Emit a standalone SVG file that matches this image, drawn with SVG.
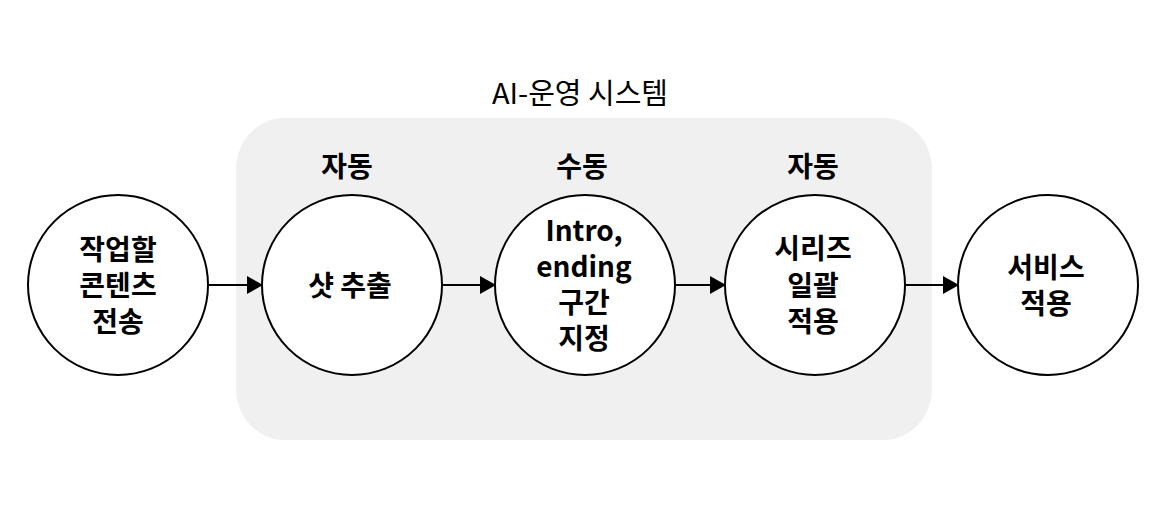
<svg xmlns="http://www.w3.org/2000/svg" width="1156" height="518" viewBox="0 0 1156 518">
<style>
.node{fill:#fff;stroke:#000;stroke-width:2}
.t{font-family:"Noto Sans CJK KR","Noto Sans",sans-serif;font-weight:bold;font-size:28px;text-anchor:middle;dominant-baseline:central;fill:#000}
.title{font-family:"Noto Sans CJK KR","Noto Sans",sans-serif;font-size:29px;text-anchor:middle;dominant-baseline:central;fill:#000}
.edge{stroke:#000;stroke-width:2;fill:none}
</style>
<defs>
<marker id="ah" markerWidth="16" markerHeight="18" refX="15" refY="9" orient="auto" markerUnits="userSpaceOnUse">
<path d="M0,0 L16,9 L0,18 Z" fill="#000"/>
</marker>
</defs>
<rect x="236" y="118" width="696" height="322" rx="48" ry="52" fill="#f0f0f0"/>
<text class="title" x="580" y="91">AI-운영 시스템</text>
<text class="t" x="347" y="165">자동</text>
<text class="t" x="582" y="165">수동</text>
<text class="t" x="813" y="165">자동</text>
<g id="connectors">
<line class="edge" x1="209" y1="285" x2="262" y2="285" marker-end="url(#ah)"/>
<line class="edge" x1="443" y1="285" x2="495" y2="285" marker-end="url(#ah)"/>
<line class="edge" x1="675" y1="285" x2="725" y2="285" marker-end="url(#ah)"/>
<line class="edge" x1="906" y1="285" x2="958" y2="285" marker-end="url(#ah)"/>
</g>
<g id="n1"><circle class="node" cx="118" cy="285" r="90"/>
<text class="t" x="118" y="248">작업할</text><text class="t" x="118" y="284">콘텐츠</text><text class="t" x="118" y="320">전송</text></g>
<g id="n2"><circle class="node" cx="352" cy="285" r="90"/>
<text class="t" x="350" y="284">샷 추출</text></g>
<g id="n3"><circle class="node" cx="585" cy="285" r="90"/>
<text class="t" x="584" y="229">Intro,</text><text class="t" x="584" y="265">ending</text><text class="t" x="584" y="301">구간</text><text class="t" x="584" y="337">지정</text></g>
<g id="n4"><circle class="node" cx="815" cy="285" r="90"/>
<text class="t" x="813" y="247">시리즈</text><text class="t" x="813" y="284">일괄</text><text class="t" x="813" y="320">적용</text></g>
<g id="n5"><circle class="node" cx="1048" cy="285" r="90"/>
<text class="t" x="1046" y="266">서비스</text><text class="t" x="1046" y="302">적용</text></g>
</svg>
